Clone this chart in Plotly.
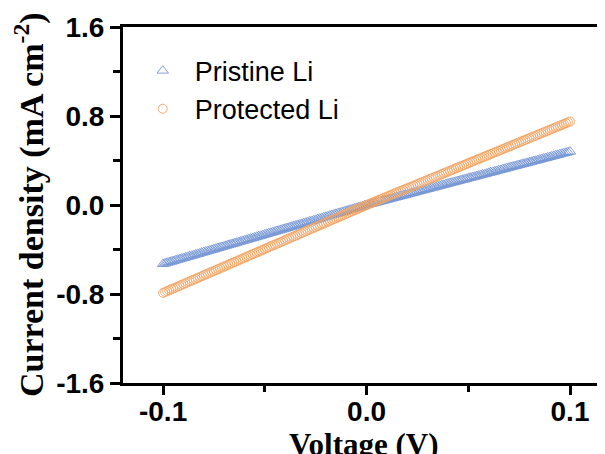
import plotly.graph_objects as go

voltage = [
    -0.100, -0.099, -0.098, -0.097, -0.096, -0.095, -0.094, -0.093, -0.092, -0.091,
    -0.090, -0.089, -0.088, -0.087, -0.086, -0.085, -0.084, -0.083, -0.082, -0.081,
    -0.080, -0.079, -0.078, -0.077, -0.076, -0.075, -0.074, -0.073, -0.072, -0.071,
    -0.070, -0.069, -0.068, -0.067, -0.066, -0.065, -0.064, -0.063, -0.062, -0.061,
    -0.060, -0.059, -0.058, -0.057, -0.056, -0.055, -0.054, -0.053, -0.052, -0.051,
    -0.050, -0.049, -0.048, -0.047, -0.046, -0.045, -0.044, -0.043, -0.042, -0.041,
    -0.040, -0.039, -0.038, -0.037, -0.036, -0.035, -0.034, -0.033, -0.032, -0.031,
    -0.030, -0.029, -0.028, -0.027, -0.026, -0.025, -0.024, -0.023, -0.022, -0.021,
    -0.020, -0.019, -0.018, -0.017, -0.016, -0.015, -0.014, -0.013, -0.012, -0.011,
    -0.010, -0.009, -0.008, -0.007, -0.006, -0.005, -0.004, -0.003, -0.002, -0.001,
    0.000,
    0.001, 0.002, 0.003, 0.004, 0.005, 0.006, 0.007, 0.008, 0.009, 0.010,
    0.011, 0.012, 0.013, 0.014, 0.015, 0.016, 0.017, 0.018, 0.019, 0.020,
    0.021, 0.022, 0.023, 0.024, 0.025, 0.026, 0.027, 0.028, 0.029, 0.030,
    0.031, 0.032, 0.033, 0.034, 0.035, 0.036, 0.037, 0.038, 0.039, 0.040,
    0.041, 0.042, 0.043, 0.044, 0.045, 0.046, 0.047, 0.048, 0.049, 0.050,
    0.051, 0.052, 0.053, 0.054, 0.055, 0.056, 0.057, 0.058, 0.059, 0.060,
    0.061, 0.062, 0.063, 0.064, 0.065, 0.066, 0.067, 0.068, 0.069, 0.070,
    0.071, 0.072, 0.073, 0.074, 0.075, 0.076, 0.077, 0.078, 0.079, 0.080,
    0.081, 0.082, 0.083, 0.084, 0.085, 0.086, 0.087, 0.088, 0.089, 0.090,
    0.091, 0.092, 0.093, 0.094, 0.095, 0.096, 0.097, 0.098, 0.099, 0.100,
]

pristine = [
    -0.530, -0.525, -0.519, -0.514, -0.509, -0.504, -0.498, -0.493, -0.488, -0.482,
    -0.477, -0.472, -0.466, -0.461, -0.456, -0.451, -0.445, -0.440, -0.435, -0.429,
    -0.424, -0.419, -0.413, -0.408, -0.403, -0.398, -0.392, -0.387, -0.382, -0.376,
    -0.371, -0.366, -0.360, -0.355, -0.350, -0.345, -0.339, -0.334, -0.329, -0.323,
    -0.318, -0.313, -0.307, -0.302, -0.297, -0.292, -0.286, -0.281, -0.276, -0.270,
    -0.265, -0.260, -0.254, -0.249, -0.244, -0.239, -0.233, -0.228, -0.223, -0.217,
    -0.212, -0.207, -0.201, -0.196, -0.191, -0.186, -0.180, -0.175, -0.170, -0.164,
    -0.159, -0.154, -0.148, -0.143, -0.138, -0.133, -0.127, -0.122, -0.117, -0.111,
    -0.106, -0.101, -0.095, -0.090, -0.085, -0.080, -0.074, -0.069, -0.064, -0.058,
    -0.053, -0.048, -0.042, -0.037, -0.032, -0.027, -0.021, -0.016, -0.011, -0.005,
    0.000,
    0.005, 0.010, 0.014, 0.019, 0.024, 0.029, 0.034, 0.038, 0.043, 0.048,
    0.053, 0.058, 0.062, 0.067, 0.072, 0.077, 0.082, 0.086, 0.091, 0.096,
    0.101, 0.106, 0.110, 0.115, 0.120, 0.125, 0.130, 0.134, 0.139, 0.144,
    0.149, 0.154, 0.158, 0.163, 0.168, 0.173, 0.178, 0.182, 0.187, 0.192,
    0.197, 0.202, 0.206, 0.211, 0.216, 0.221, 0.226, 0.230, 0.235, 0.240,
    0.245, 0.250, 0.254, 0.259, 0.264, 0.269, 0.274, 0.278, 0.283, 0.288,
    0.293, 0.298, 0.302, 0.307, 0.312, 0.317, 0.322, 0.326, 0.331, 0.336,
    0.341, 0.346, 0.350, 0.355, 0.360, 0.365, 0.370, 0.374, 0.379, 0.384,
    0.389, 0.394, 0.398, 0.403, 0.408, 0.413, 0.418, 0.422, 0.427, 0.432,
    0.437, 0.442, 0.446, 0.451, 0.456, 0.461, 0.466, 0.470, 0.475, 0.480,
]

protected = [
    -0.790, -0.782, -0.774, -0.766, -0.758, -0.751, -0.743, -0.735, -0.727, -0.719,
    -0.711, -0.703, -0.695, -0.687, -0.679, -0.672, -0.664, -0.656, -0.648, -0.640,
    -0.632, -0.624, -0.616, -0.608, -0.600, -0.593, -0.585, -0.577, -0.569, -0.561,
    -0.553, -0.545, -0.537, -0.529, -0.521, -0.514, -0.506, -0.498, -0.490, -0.482,
    -0.474, -0.466, -0.458, -0.450, -0.442, -0.435, -0.427, -0.419, -0.411, -0.403,
    -0.395, -0.387, -0.379, -0.371, -0.363, -0.356, -0.348, -0.340, -0.332, -0.324,
    -0.316, -0.308, -0.300, -0.292, -0.284, -0.277, -0.269, -0.261, -0.253, -0.245,
    -0.237, -0.229, -0.221, -0.213, -0.205, -0.198, -0.190, -0.182, -0.174, -0.166,
    -0.158, -0.150, -0.142, -0.134, -0.126, -0.119, -0.111, -0.103, -0.095, -0.087,
    -0.079, -0.071, -0.063, -0.055, -0.047, -0.040, -0.032, -0.024, -0.016, -0.008,
    0.000,
    0.008, 0.015, 0.023, 0.030, 0.038, 0.045, 0.053, 0.060, 0.068, 0.075,
    0.083, 0.090, 0.098, 0.105, 0.113, 0.120, 0.128, 0.135, 0.143, 0.150,
    0.158, 0.165, 0.173, 0.180, 0.188, 0.195, 0.203, 0.210, 0.218, 0.225,
    0.233, 0.240, 0.248, 0.255, 0.263, 0.270, 0.278, 0.285, 0.293, 0.300,
    0.308, 0.315, 0.323, 0.330, 0.338, 0.345, 0.353, 0.360, 0.368, 0.375,
    0.383, 0.390, 0.398, 0.405, 0.413, 0.420, 0.428, 0.435, 0.443, 0.450,
    0.458, 0.465, 0.473, 0.480, 0.488, 0.495, 0.503, 0.510, 0.518, 0.525,
    0.533, 0.540, 0.548, 0.555, 0.563, 0.570, 0.578, 0.585, 0.593, 0.600,
    0.608, 0.615, 0.623, 0.630, 0.638, 0.645, 0.653, 0.660, 0.668, 0.675,
    0.683, 0.690, 0.698, 0.705, 0.713, 0.720, 0.728, 0.735, 0.743, 0.750,
]

x_ticks = [-0.1, 0.0, 0.1]
x_tick_labels = ["-0.1", "0.0", "0.1"]
x_minor_ticks = [-0.05, 0.05]
y_ticks = [-1.6, -0.8, 0.0, 0.8, 1.6]
y_tick_labels = ["-1.6", "-0.8", "0.0", "0.8", "1.6"]
y_minor_ticks = [-1.2, -0.4, 0.4, 1.2]

BLUE = "#7595D4"
ORANGE = "#F2A462"

fig = go.Figure()
fig.add_trace(go.Scatter(
    x=voltage, y=pristine, mode="markers", name="Pristine Li",
    marker=dict(symbol="triangle-up-open", size=10, color=BLUE, line=dict(width=0.9, color=BLUE)),
))
fig.add_trace(go.Scatter(
    x=voltage, y=protected, mode="markers", name="Protected Li",
    marker=dict(symbol="circle-open", size=9, color=ORANGE, line=dict(width=0.9, color=ORANGE)),
))

tickfont = dict(family="Liberation Sans", size=28, color="black", weight="bold")

# The page body has an 8px default margin, so the figure is 8px smaller
# and all positions are offset accordingly.
fig.update_layout(
    width=597, height=446,
    margin=dict(l=115, r=0, t=19, b=71),
    paper_bgcolor="white", plot_bgcolor="white",
    showlegend=True,
    legend=dict(
        x=0.016, y=0.945, xanchor="left", yanchor="top",
        font=dict(family="Liberation Sans", size=27, color="black"),
        bgcolor="rgba(0,0,0,0)", tracegroupgap=0, itemwidth=54,
    ),
    xaxis=dict(
        range=[-0.1197, 0.1172], showgrid=False, zeroline=False, automargin=False,
        showline=True, linecolor="black", linewidth=3, mirror=True,
        tickmode="array", tickvals=x_ticks, ticktext=x_tick_labels,
        ticks="outside", ticklen=9, tickwidth=3, tickcolor="black",
        tickfont=tickfont, ticklabelstandoff=-8,
        minor=dict(tickmode="array", tickvals=x_minor_ticks, ticks="outside",
                   ticklen=6, tickwidth=3, tickcolor="black"),
    ),
    yaxis=dict(
        range=[-1.6, 1.6], showgrid=False, zeroline=False, automargin=False,
        showline=True, linecolor="black", linewidth=3, mirror=False,
        tickmode="array", tickvals=y_ticks, ticktext=y_tick_labels,
        ticks="outside", ticklen=10, tickwidth=3, tickcolor="black",
        tickfont=tickfont,
        minor=dict(tickmode="array", tickvals=y_minor_ticks, ticks="outside",
                   ticklen=7, tickwidth=3, tickcolor="black"),
    ),
    annotations=[
        dict(text="Current density (mA cm<sup>-2</sup>)", xref="paper", yref="paper",
             x=-0.195, y=0.5, xanchor="center", yanchor="middle", textangle=-90,
             showarrow=False,
             font=dict(family="Liberation Serif", size=34, color="black", weight="bold")),
        dict(text="Voltage (V)", xref="paper", yref="paper",
             x=0.5, y=-0.172, xanchor="center", yanchor="middle",
             showarrow=False,
             font=dict(family="Liberation Serif", size=31, color="black", weight="bold")),
    ],
)

fig.write_html("out.html")
